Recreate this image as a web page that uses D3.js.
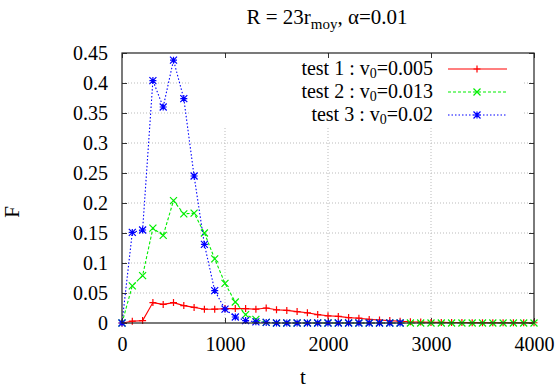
<!DOCTYPE html>
<html>
<head>
<meta charset="utf-8">
<script src="https://cdn.jsdelivr.net/npm/d3@7"></script>
<style>
  body { margin: 0; background: #fff; }
</style>
</head>
<body>
<svg id="chart" width="560" height="390"></svg>
<script>
// time steps (t)
let times = [0,100,200,300,400,500,600,700,800,900,1000,1100,1200,1300,1400,1500,1600,1700,1800,1900,
             2000,2100,2200,2300,2400,2500,2600,2700,2800,2900,3000,3100,3200,3300,3400,3500,3600,3700,3800,3900,4000];

// test 1 : v0=0.005
let test1 = [0,0.003,0.004,0.034,0.031,0.034,0.029,0.026,0.023,0.023,0.024,0.024,0.024,0.023,0.025,0.022,0.021,0.019,0.017,0.014,
             0.012,0.011,0.009,0.008,0.006,0.005,0.004,0.003,0.002,0.0015,0.001,0.001,0.0008,0.0008,0.0006,0.0006,0.0005,0.0005,0.0004,0.0004,0.0004];
// test 2 : v0=0.013
let test2 = [0,0.062,0.079,0.158,0.146,0.204,0.182,0.183,0.150,0.107,0.066,0.035,0.014,0.006,0.001,0,0,0,0,0,
             0,0,0,0,0,0,0,0,0,0,0,0,0,0,0,0,0,0,0,0,0];
// test 3 : v0=0.02 (stops at t=2700)
let test3 = [0,0.151,0.155,0.404,0.360,0.438,0.374,0.245,0.131,0.054,0.023,0.010,0.004,0.002,0.001,0,0,0,0,0,
             0,0,0,0,0,0,0,0];

let xTicks = [0,1000,2000,3000,4000];
let yTicks = [0,0.05,0.1,0.15,0.2,0.25,0.3,0.35,0.4,0.45];

let series = [
  { name: "test 1 : v", sub: "0", val: "=0.005", values: test1, color: "#ff0000", dash: null, marker: "plus" },
  { name: "test 2 : v", sub: "0", val: "=0.013", values: test2, color: "#00ee00", dash: "3,2", marker: "cross" },
  { name: "test 3 : v", sub: "0", val: "=0.02",  values: test3, color: "#0000ff", dash: "1.5,2", marker: "star" }
];

let serif = "'Liberation Serif', 'Times New Roman', Times, serif";

let chart = d3.select("#chart").attr("font-family", serif);
let pLeft = 122, pRight = 534, pTop = 53, pBottom = 323;

let x = d3.scaleLinear().domain([0,4000]).range([pLeft,pRight]);
let y = d3.scaleLinear().domain([0,0.45]).range([pBottom,pTop]);

// grid
let grid = chart.append("g");
grid.selectAll("line.gy").data(yTicks.slice(1,-1)).enter().append("line")
  .attr("x1",pLeft).attr("x2",pRight).attr("y1",d => y(d)).attr("y2",d => y(d))
  .attr("stroke","#bbb").attr("stroke-width",1).attr("stroke-dasharray","1,2");
grid.selectAll("line.gx").data(xTicks.slice(1,-1)).enter().append("line")
  .attr("x1",d => x(d)).attr("x2",d => x(d)).attr("y1",pTop).attr("y2",pBottom)
  .attr("stroke","#bbb").attr("stroke-width",1).attr("stroke-dasharray","1,2");

// key box hides grid behind it
chart.append("rect").attr("x",190).attr("y",55).attr("width",332).attr("height",71).attr("fill","#fff");

// axes with inward ticks, mirrored
let tk = 5;
let xAxisB = d3.axisBottom(x).tickValues(xTicks).tickSize(-tk).tickPadding(14).tickFormat(d3.format("d"));
let xAxisT = d3.axisTop(x).tickValues(xTicks).tickSize(-tk).tickFormat("");
let yAxisL = d3.axisLeft(y).tickValues(yTicks).tickSize(-tk).tickPadding(14).tickFormat(d => d === 0 ? "0" : String(d));
let yAxisR = d3.axisRight(y).tickValues(yTicks).tickSize(-tk).tickFormat("");

function styleAxis(g) {
  g.attr("font-family", serif).attr("font-size", 20);
  g.select(".domain").remove();
  g.selectAll(".tick line").attr("stroke","#333");
  g.selectAll(".tick text").attr("fill","#000");
}
chart.append("g").attr("transform",`translate(0,${pBottom})`).call(xAxisB).call(styleAxis);
chart.append("g").attr("transform",`translate(0,${pTop})`).call(xAxisT).call(styleAxis);
chart.append("g").attr("transform",`translate(${pLeft},0)`).call(yAxisL).call(styleAxis);
chart.append("g").attr("transform",`translate(${pRight},0)`).call(yAxisR).call(styleAxis);

// data lines
let line = d3.line().x((d,i) => x(times[i])).y(d => y(d));

function marker(sel, type, color) {
  let s = 3.5;
  let p = "";
  if (type === "plus" || type === "star") p += `M${-s},0H${s}M0,${-s}V${s}`;
  if (type === "cross" || type === "star") p += `M${-s},${-s}L${s},${s}M${-s},${s}L${s},${-s}`;
  sel.append("path").attr("d",p).attr("stroke",color).attr("stroke-width",1.2).attr("fill","none");
}

series.forEach(s => {
  chart.append("path").datum(s.values).attr("d",line)
    .attr("fill","none").attr("stroke",s.color).attr("stroke-width",1.1)
    .attr("stroke-dasharray",s.dash);
  s.values.forEach((v,i) => {
    let g = chart.append("g").attr("transform",`translate(${x(times[i])},${y(v)})`);
    marker(g, s.marker, s.color);
  });
});

// frame
chart.append("rect").attr("x",pLeft).attr("y",pTop).attr("width",pRight-pLeft).attr("height",pBottom-pTop)
  .attr("fill","none").attr("stroke","#222").attr("stroke-width",1.2);

// legend
let key = chart.append("g");
series.forEach((s,i) => {
  let ky = 75 + i*23;
  let t = key.append("text").attr("x",433).attr("y",ky).attr("text-anchor","end").attr("font-size",20);
  t.append("tspan").text(s.name);
  t.append("tspan").attr("dy",3).attr("font-size",14).text(s.sub);
  t.append("tspan").attr("dy",-3).text(s.val);
  key.append("line").attr("x1",448).attr("x2",507).attr("y1",ky-6).attr("y2",ky-6)
    .attr("stroke",s.color).attr("stroke-width",1.1).attr("stroke-dasharray",s.dash);
  let g = key.append("g").attr("transform",`translate(477,${ky-6})`);
  marker(g, s.marker, s.color);
});

// title
let title = chart.append("text").attr("x",327).attr("y",24).attr("text-anchor","middle").attr("font-size",21);
title.append("tspan").text("R = 23r");
title.append("tspan").attr("dy",5).attr("font-size",15).text("moy");
title.append("tspan").attr("dy",-5).text(", α=0.01");

// axis labels
chart.append("text").attr("x",303).attr("y",384).attr("text-anchor","middle").attr("font-size",21).text("t");
chart.append("text").attr("transform","translate(19,212) rotate(-90)").attr("text-anchor","middle")
  .attr("font-size",21).text("F");
</script>
</body>
</html>
